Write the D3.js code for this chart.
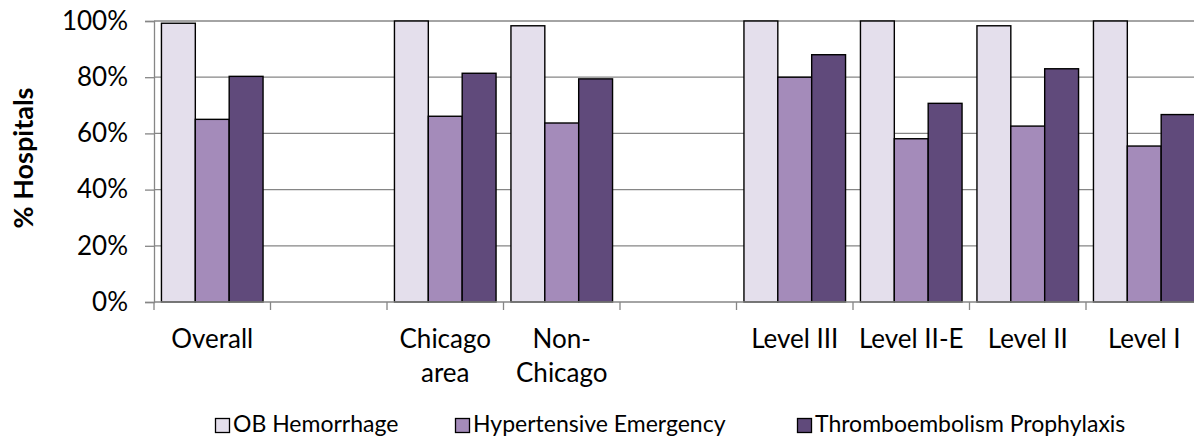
<!DOCTYPE html>
<html>
<head>
<meta charset="utf-8">
<script src="https://cdn.jsdelivr.net/npm/d3@7"></script>
<style>
  html, body { margin: 0; padding: 0; background: #fff; }
  svg { display: block; }
  text { font-family: Lato, "Open Sans", sans-serif; fill: #000; }
</style>
</head>
<body>
<svg id="chart" width="1194" height="438"></svg>
<script>
// Share of hospitals with each protocol, by group (blank slots separate the groups)
const categoryLabels = ["Overall", "", "Chicago\narea", "Non-\nChicago", "", "Level III", "Level II-E", "Level II", "Level I"];
const seriesNames = ["OB Hemorrhage", "Hypertensive Emergency", "Thromboembolism Prophylaxis"];
const obHemorrhage = [99.2, null, 100, 98.3, null, 100, 100, 98.3, 100];
const hypertensiveEmergency = [65.0, null, 66.1, 63.7, null, 80.0, 58.1, 62.6, 55.5];
const thromboembolismProphylaxis = [80.3, null, 81.4, 79.4, null, 88.0, 70.7, 83.0, 66.7];
const yTicks = [0, 20, 40, 60, 80, 100];

const seriesValues = [obHemorrhage, hypertensiveEmergency, thromboembolismProphylaxis];
const colors = ["#E4DFEC", "#A48BBA", "#604A7B"];

const svg = d3.select("#chart");
const plotLeft = 154, plotTop = 21, plotBottom = 302;
const catWidth = 116.5;

const x0 = d3.scaleBand()
  .domain(d3.range(categoryLabels.length))
  .range([plotLeft, plotLeft + catWidth * categoryLabels.length])
  .padding(0);

const x1 = d3.scaleBand()
  .domain(d3.range(seriesNames.length))
  .range([0, x0.bandwidth()])
  .paddingOuter(0.22)
  .paddingInner(0);

const y = d3.scaleLinear().domain([0, 100]).range([plotBottom, plotTop]);

// gridlines
svg.append("g")
  .selectAll("line")
  .data(yTicks.filter(t => t > 0))
  .join("line")
  .attr("x1", plotLeft).attr("x2", 1194)
  .attr("y1", d => y(d)).attr("y2", d => y(d))
  .attr("stroke", "#868686").attr("stroke-width", 1.3);

// y axis
const yAxis = svg.append("g")
  .attr("transform", `translate(${plotLeft},0)`)
  .call(d3.axisLeft(y).tickValues(yTicks).tickFormat(d => d + "%").tickSize(9).tickPadding(17));
yAxis.select(".domain").attr("stroke", "#868686").attr("stroke-width", 1.3);
yAxis.selectAll(".tick line").attr("stroke", "#868686").attr("stroke-width", 1.3);
yAxis.selectAll(".tick text")
  .style("font-family", "Lato, sans-serif")
  .style("font-size", "26px")
  .attr("fill", "#000");

// bars
const groups = svg.append("g")
  .selectAll("g")
  .data(categoryLabels.map((c, i) => i).filter(i => obHemorrhage[i] !== null))
  .join("g")
  .attr("transform", i => `translate(${x0(i)},0)`);

groups.selectAll("rect")
  .data(i => seriesValues.map((s, k) => ({ k, v: s[i] })))
  .join("rect")
  .attr("x", d => x1(d.k))
  .attr("width", x1.bandwidth())
  .attr("y", d => y(d.v))
  .attr("height", d => y(0) - y(d.v))
  .attr("fill", d => colors[d.k])
  .attr("stroke", "#000")
  .attr("stroke-width", 1.4);

// x axis
const xAxis = svg.append("g").attr("transform", `translate(0,${plotBottom})`);
xAxis.append("line")
  .attr("x1", plotLeft).attr("x2", 1194)
  .attr("stroke", "#868686").attr("stroke-width", 1.3);
xAxis.selectAll("line.tick")
  .data(d3.range(categoryLabels.length))
  .join("line")
  .attr("class", "tick")
  .attr("x1", i => x0(i)).attr("x2", i => x0(i))
  .attr("y1", 0).attr("y2", 8)
  .attr("stroke", "#868686").attr("stroke-width", 1.3);

const labels = xAxis.selectAll("text")
  .data(categoryLabels.map((c, i) => ({ c, i })).filter(d => d.c))
  .join("text")
  .attr("text-anchor", "middle")
  .style("font-size", "26px")
  .attr("transform", d => `translate(${x0(d.i) + x0.bandwidth() / 2},0)`);
labels.selectAll("tspan")
  .data(d => d.c.split("\n"))
  .join("tspan")
  .attr("x", 0)
  .attr("y", (d, j) => 46 + j * 34)
  .text(d => d);

// y axis title
svg.append("text")
  .attr("transform", `translate(33,158) rotate(-90)`)
  .attr("text-anchor", "middle")
  .style("font-size", "27px")
  .style("font-weight", "bold")
  .text("% Hospitals");

// legend
const legendX = [215, 455, 797];
const legend = svg.append("g")
  .selectAll("g")
  .data(seriesNames.map((n, k) => ({ n, k })))
  .join("g")
  .attr("transform", d => `translate(${legendX[d.k]},418)`);
legend.append("rect")
  .attr("x", 0.5).attr("y", 0.5)
  .attr("width", 14).attr("height", 14)
  .attr("fill", d => colors[d.k])
  .attr("stroke", "#000").attr("stroke-width", 1.3);
legend.append("text")
  .attr("x", 18)
  .attr("y", 14)
  .style("font-size", "23px")
  .text(d => d.n);
</script>
</body>
</html>
